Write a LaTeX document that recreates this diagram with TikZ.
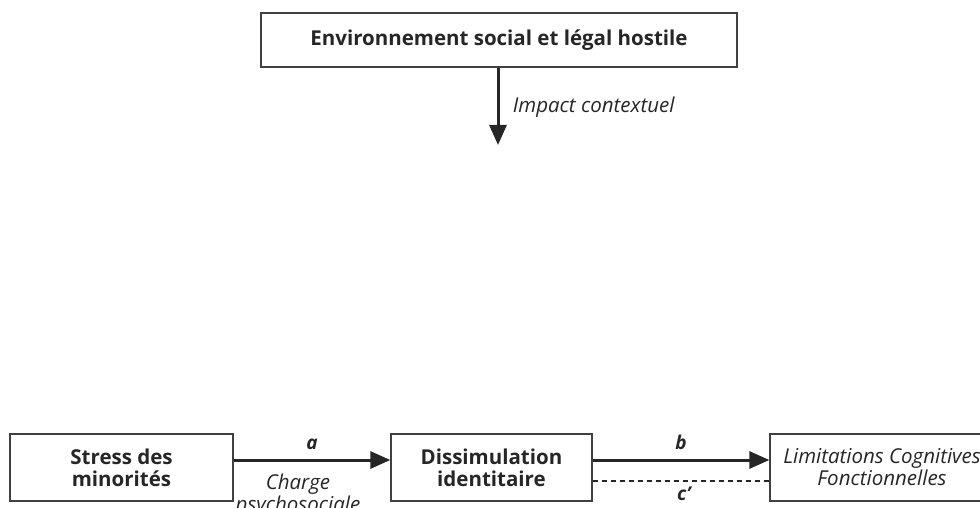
\documentclass[tikz,border=0pt]{standalone}
\usepackage{fontspec}
\setmainfont{Open Sans}[Ligatures=NoCommon]
\usetikzlibrary{arrows.meta}
\begin{document}
\begin{tikzpicture}[x=1pt, y=-1pt,
	box/.style={draw=black!75, line width=1.3pt, rectangle, inner sep=0pt, font=\fontsize{20.5}{22}\selectfont\bfseries, align=center, text=black!85},
	link/.style={draw=black!85, line width=3pt, -{Triangle[length=20pt,width=17pt]}},
	lbl/.style={font=\fontsize{20.5}{22}\selectfont\itshape, align=center, text=black!85},
	path lbl/.style={lbl, font=\fontsize{19}{20}\selectfont\bfseries\itshape}]
	\useasboundingbox (0,0) rectangle (980,508);
	%boxes
	\node[box, minimum width=476pt, minimum height=54pt] (env) at (499,40) {Environnement social et légal hostile};
	\node[box, minimum width=223pt, minimum height=67pt] (stress) at (121.5,467.5) {Stress des\\minorités};
	\node[box, minimum width=201pt, minimum height=67pt] (dissim) at (491.5,467.5) {Dissimulation\\identitaire};
	\node[box, minimum width=224pt, minimum height=67pt, font=\fontsize{20.5}{22}\selectfont\itshape] (limit) at (882,467.5) {Limitations Cognitives\\Fonctionnelles};
	\coordinate (impact) at (498,145);
	%arrows
	\draw[link] (env.south -| impact) -- node[lbl, right=10pt, yshift=-1pt] {Impact contextuel} (impact);
	\draw[link] ([yshift=7.5pt]stress.east) -- node[path lbl, above=5pt] {a}
		node[lbl, below=9pt, xshift=-14pt] {Charge\\psychosociale} ([yshift=7.5pt]dissim.west);
	\draw[link] ([yshift=7.5pt]dissim.east) -- node[path lbl, above=5pt] {b} ([yshift=7.5pt]limit.west);
	\draw[black!85, line width=1.2pt, dash pattern=on 5pt off 4pt] ([yshift=-13.5pt]dissim.east) -- node[path lbl, below=2pt, xshift=3pt] {c’} ([yshift=-13.5pt]limit.west);
\end{tikzpicture}
\end{document}
